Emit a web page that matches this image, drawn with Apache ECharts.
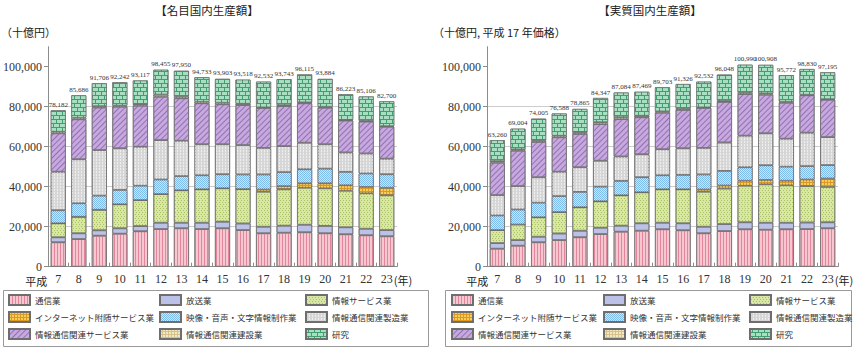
<!DOCTYPE html>
<html>
<head>
<meta charset="utf-8">
<script src="https://cdn.jsdelivr.net/npm/echarts@6/dist/echarts.min.js"></script>
<style>
  html, body { margin: 0; padding: 0; background: #fff; }
  #chart { width: 858px; height: 348px; }
</style>
</head>
<body>
<div id="chart"></div>
<script>
// 年（平成）
const years = ['7','8','9','10','11','12','13','14','15','16','17','18','19','20','21','22','23'];

// 部門名（積み上げ順：下から）
const sectorNames = ['通信業','放送業','情報サービス業','インターネット附随サービス業','映像・音声・文字情報制作業','情報通信関連製造業','情報通信関連サービス業','情報通信関連建設業','研究'];

// 名目国内生産額（十億円）
const nomTsushin  = [12200,13800,15500,16500,17700,18800,19200,18800,19200,18300,16700,17000,17200,16700,16200,15700,15200];
const nomHoso     = [2500,2900,2700,2700,2600,3200,2800,3200,3300,3300,3300,3500,3800,3700,3500,3300,3100];
const nomJoho     = [7000,8300,10300,12000,13000,14300,16200,16700,16700,17200,17500,18200,18500,18800,18300,17700,17400];
const nomNet      = [0,0,0,0,0,0,0,0,0,0,1100,1600,2200,2500,2700,3200,3800];
const nomEizo     = [6500,6700,7000,7200,7200,7300,7100,7000,7000,7300,7500,7000,7000,7300,6700,6700,6700];
const nomSeizo    = [19300,22000,22800,20800,19500,19700,17700,15500,15000,14700,13300,13000,13300,12200,9700,10000,7800];
const nomService  = [19200,20000,21300,20800,20500,21700,21200,20500,20000,20000,20000,20000,19700,18300,16000,16000,16000];
const nomKensetsu = [800,800,700,600,800,1100,800,800,800,700,300,500,500,500,300,300,300];
const nomKenkyu   = [10682,11186,11406,11642,11817,12355,12950,12233,11903,12018,12832,12943,13915,13884,12823,12206,12400];
const nomTotal    = [78182,85686,91706,92242,93117,98455,97950,94733,93903,93518,92532,93743,96115,93884,86223,85106,82700];

// 実質国内生産額（十億円，平成17年価格）
const realTsushin  = [9000,10500,12200,13300,14700,16300,17500,18000,18700,18200,16700,17800,18700,18500,18700,18800,19200];
const realHoso     = [2800,2800,2800,3300,3300,3200,3000,3700,3300,3500,3300,3500,3500,3500,3300,3300,3000];
const realJoho     = [6500,7800,9700,10700,11700,13200,15200,15500,16700,17000,17500,17800,18300,19200,18700,18200,17700];
const realNet      = [0,0,0,0,0,0,0,0,0,0,1100,1500,2500,2200,2300,3300,4200];
const realEizo     = [7300,7500,7300,8000,7700,7300,7200,7500,7000,7200,7500,7300,6700,7300,7000,6700,6700];
const realSeizo    = [10200,11700,12700,12200,12300,13000,12200,11500,13000,13300,13300,14200,15800,16000,14000,16700,14000];
const realService  = [16200,17700,17700,17200,16700,18300,18700,18500,18300,19200,20000,20300,20800,19300,18000,18700,18700];
const realKensetsu = [800,700,700,800,800,1000,1000,800,700,600,300,500,700,700,500,300,300];
const realKenkyu   = [10460,10304,10905,11088,11665,12047,12284,11969,12003,12326,12832,13148,13990,14208,13272,12830,13395];
const realTotal    = [63260,69004,74005,76588,78865,84347,87084,87469,89703,91326,92532,96048,100990,100908,95772,98830,97195];

const nomData  = [nomTsushin, nomHoso, nomJoho, nomNet, nomEizo, nomSeizo, nomService, nomKensetsu, nomKenkyu];
const realData = [realTsushin, realHoso, realJoho, realNet, realEizo, realSeizo, realService, realKensetsu, realKenkyu];

// 塗り（地色＋模様）
const fills = [
  { color: '#f6c6d1', decal: { symbol: 'rect', symbolSize: 1, color: '#e2879b', dashArrayX: [1, 2], dashArrayY: [4, 0] } },
  { color: '#bcc1e7', decal: { symbol: 'none', dashArrayX: [1, 0], dashArrayY: [1, 0] } },
  { color: '#d9e7a4', decal: { symbol: 'rect', symbolSize: 1, color: '#aac262', dashArrayX: [[1, 2], [0, 1, 1, 1]], dashArrayY: [1, 1] } },
  { color: '#dc9a24', decal: { symbol: 'rect', symbolSize: 1, color: '#f8cd58', dashArrayX: [2, 1], dashArrayY: [2, 1] } },
  { color: '#7dbbea', decal: { symbol: 'rect', symbolSize: 1, color: '#cbe7fa', dashArrayX: [[1, 1], [0, 1, 1, 0]], dashArrayY: [1, 0] } },
  { color: '#d6d6d6', decal: { symbol: 'rect', symbolSize: 1, color: '#eeeeee', dashArrayX: [1, 2], dashArrayY: [2, 1] } },
  { color: '#c7a9de', decal: { symbol: 'rect', symbolSize: 1, color: '#9270b6', dashArrayX: [1, 0], dashArrayY: [1, 3], rotation: -Math.PI / 4 } },
  { color: '#d6c18a', decal: { symbol: 'rect', symbolSize: 1, color: '#f3e8c6', dashArrayX: [2, 1], dashArrayY: [2, 1] } },
  { color: '#3f9f6f', decal: { symbol: 'rect', symbolSize: 1, color: '#a9dec3', dashArrayX: [[5, 1], [2, 1, 3, 0]], dashArrayY: [3, 1] } }
];

const NUM_FONT = 'Liberation Sans Narrow';
const JP_FONT = 'Noto Sans CJK JP';
const fmt = v => v.toLocaleString('en-US');

function buildSeries(dataSets, totals, idx, stackName) {
  return dataSets.map((arr, i) => {
    const s = {
      name: sectorNames[i],
      type: 'bar',
      stack: stackName,
      xAxisIndex: idx,
      yAxisIndex: idx,
      barWidth: 15,
      data: arr,
      itemStyle: {
        color: fills[i].color,
        decal: fills[i].decal,
        borderColor: '#6e6e6e',
        borderWidth: 0.7
      },
      emphasis: { disabled: true }
    };
    if (i === dataSets.length - 1) {
      s.label = {
        show: true,
        position: 'top',
        distance: 2,
        fontSize: 7,
        fontFamily: NUM_FONT,
        color: '#333',
        textBorderWidth: 0,
        formatter: p => fmt(totals[p.dataIndex])
      };
    }
    return s;
  });
}

function xAxisFor(idx) {
  return {
    type: 'category',
    gridIndex: idx,
    data: years,
    axisLine: { lineStyle: { color: '#8c8c8c', width: 1 } },
    axisTick: { show: true, inside: true, length: 4, lineStyle: { color: '#8c8c8c' } },
    axisLabel: { fontSize: 12, fontFamily: NUM_FONT, color: '#333', margin: 6 }
  };
}

function yAxisFor(idx) {
  return {
    type: 'value',
    gridIndex: idx,
    min: 0,
    max: 110000,
    interval: 20000,
    axisLine: { show: true, lineStyle: { color: '#8c8c8c', width: 1 } },
    axisTick: { show: true, length: 4, lineStyle: { color: '#8c8c8c' },
                customValues: [0, 20000, 40000, 60000, 80000, 100000] },
    axisLabel: { fontSize: 12, fontFamily: NUM_FONT, color: '#333', margin: 6,
                 customValues: [0, 20000, 40000, 60000, 80000, 100000],
                 formatter: v => fmt(v) },
    splitLine: { show: true, showMaxLine: false,
                 lineStyle: { color: ['#cccccc', '#cccccc', '#cccccc', '#cccccc', '#cccccc', 'rgba(0,0,0,0)', 'rgba(0,0,0,0)'], width: 1 } }
  };
}

function legendCol(left, names) {
  return {
    orient: 'vertical',
    left: left,
    top: 294,
    padding: 0,
    itemGap: 5,
    itemWidth: 21,
    itemHeight: 10,
    icon: 'rect',
    selectedMode: false,
    textStyle: { fontSize: 8.5, lineHeight: 12, color: '#333', fontFamily: JP_FONT },
    data: names
  };
}

const col1 = ['通信業', 'インターネット附随サービス業', '情報通信関連サービス業'];
const col2 = ['放送業', '映像・音声・文字情報制作業', '情報通信関連建設業'];
const col3 = ['情報サービス業', '情報通信関連製造業', '研究'];

const gridL = { left: 46, right: 461, top: 46.7, bottom: 81.3 };
const gridR = { left: 487, right: 20, top: 46.7, bottom: 81.3 };
const catW = (858 - 46 - 461) / years.length;

function txt(x, y, text, size, align) {
  return {
    type: 'text', x: x, y: y, silent: true,
    style: { text: text, fill: '#222', font: size + 'px "' + JP_FONT + '"', align: align || 'left', verticalAlign: 'middle' }
  };
}

const chart = echarts.init(document.getElementById('chart'), null, { renderer: 'svg' });
chart.setOption({
  animation: false,
  grid: [gridL, gridR],
  xAxis: [xAxisFor(0), xAxisFor(1)],
  yAxis: [yAxisFor(0), yAxisFor(1)],
  legend: [
    legendCol(8, col1), legendCol(159, col2), legendCol(305, col3),
    legendCol(451, col1), legendCol(603, col2), legendCol(749, col3)
  ],
  series: buildSeries(nomData, nomTotal, 0, 'nominal').concat(buildSeries(realData, realTotal, 1, 'real')),
  graphic: [
    txt(207, 10, '【名目国内生産額】', 11.5, 'center'),
    txt(650, 10, '【実質国内生産額】', 11.5, 'center'),
    txt(1, 32, '（十億円）', 11, 'left'),
    txt(433, 32, '（十億円, 平成 17 年価格）', 11, 'left'),
    txt(46 + catW * 0.5 - 9, 281, '平成', 11, 'right'),
    txt(46 + catW * 16.5 + 7, 280, '(年)', 11, 'left'),
    txt(487 + catW * 0.5 - 9, 281, '平成', 11, 'right'),
    txt(487 + catW * 16.5 + 7, 280, '(年)', 11, 'left'),
    { type: 'rect', silent: true, shape: { x: 3.5, y: 290.5, width: 425, height: 56 },
      style: { fill: 'none', stroke: '#999', lineWidth: 1 } },
    { type: 'rect', silent: true, shape: { x: 445.5, y: 290.5, width: 406, height: 56 },
      style: { fill: 'none', stroke: '#999', lineWidth: 1 } }
  ]
});
</script>
</body>
</html>
